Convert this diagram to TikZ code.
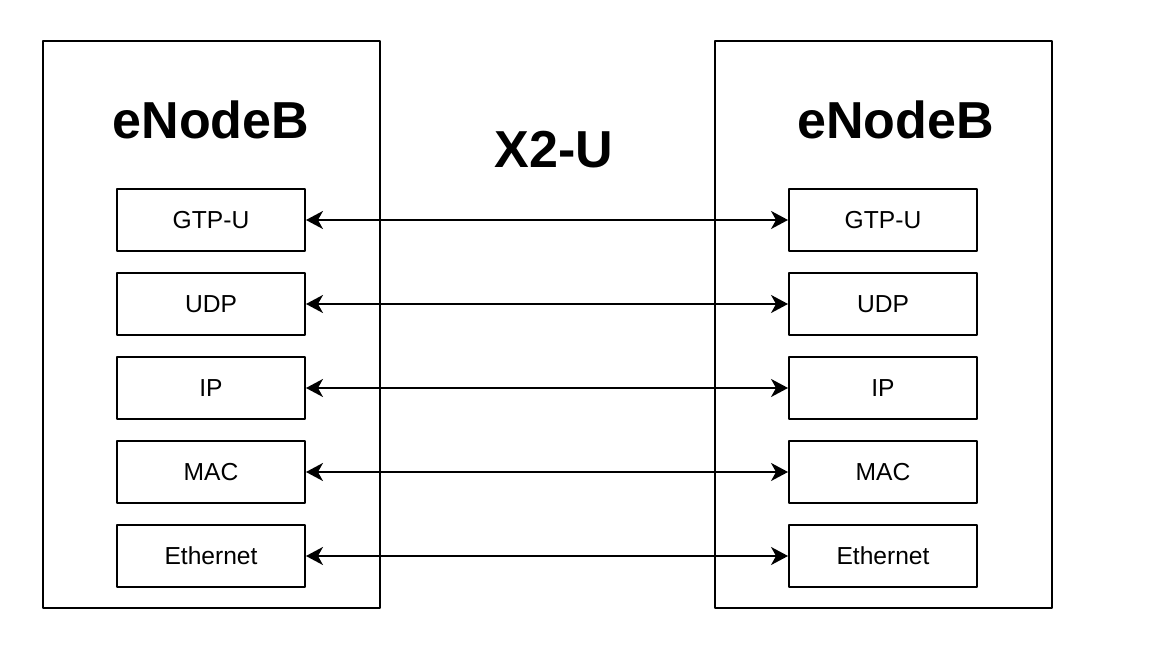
\documentclass[tikz,border=0pt]{standalone}
\usepackage{fontspec}
\setmainfont{Liberation Sans}
\usetikzlibrary{arrows.meta,positioning}
\begin{document}
\begin{tikzpicture}[line join = round, >={Stealth[length=3.4mm, width=3.6mm, inset=1mm]},
	enb/.style = {draw, line width=1.1pt, minimum width=6.74cm, minimum height=11.34cm, inner sep=0pt},
	layer/.style = {draw, line width=1.1pt, minimum width=3.76cm, minimum height=1.24cm, inner sep=0pt, font=\fontsize{14}{17}\selectfont},
	title/.style = {font=\fontsize{29.6}{34}\selectfont\bfseries},
	link/.style = {<->, line width=1.15pt}]
	%Khung hình
	\useasboundingbox (0,0) rectangle (23.04,-13.06);
	%Hai eNodeB
	\node[enb] (enbL) at (4.23,-6.49) {};
	\node[enb] (enbR) at (17.67,-6.49) {};
	\node[title] (tL) at (4.22,-2.4) {eNodeB};
	\node[title] (tR) at (17.91,-2.4) {eNodeB};
	\node[title] (x2u) at (11.08,-3.0) {X2-U};
	%Các lớp giao thức và mũi tên
	\foreach \i/\t in {1/GTP-U,2/UDP,3/IP,4/MAC,5/Ethernet}{
		\node[layer] (l\i) at (4.22,{-4.40-1.68*(\i-1)}) {\t};
		\node[layer] (r\i) at (17.66,{-4.40-1.68*(\i-1)}) {\t};
		\draw[link] (l\i.east)--(r\i.west);
	}
\end{tikzpicture}
\end{document}
